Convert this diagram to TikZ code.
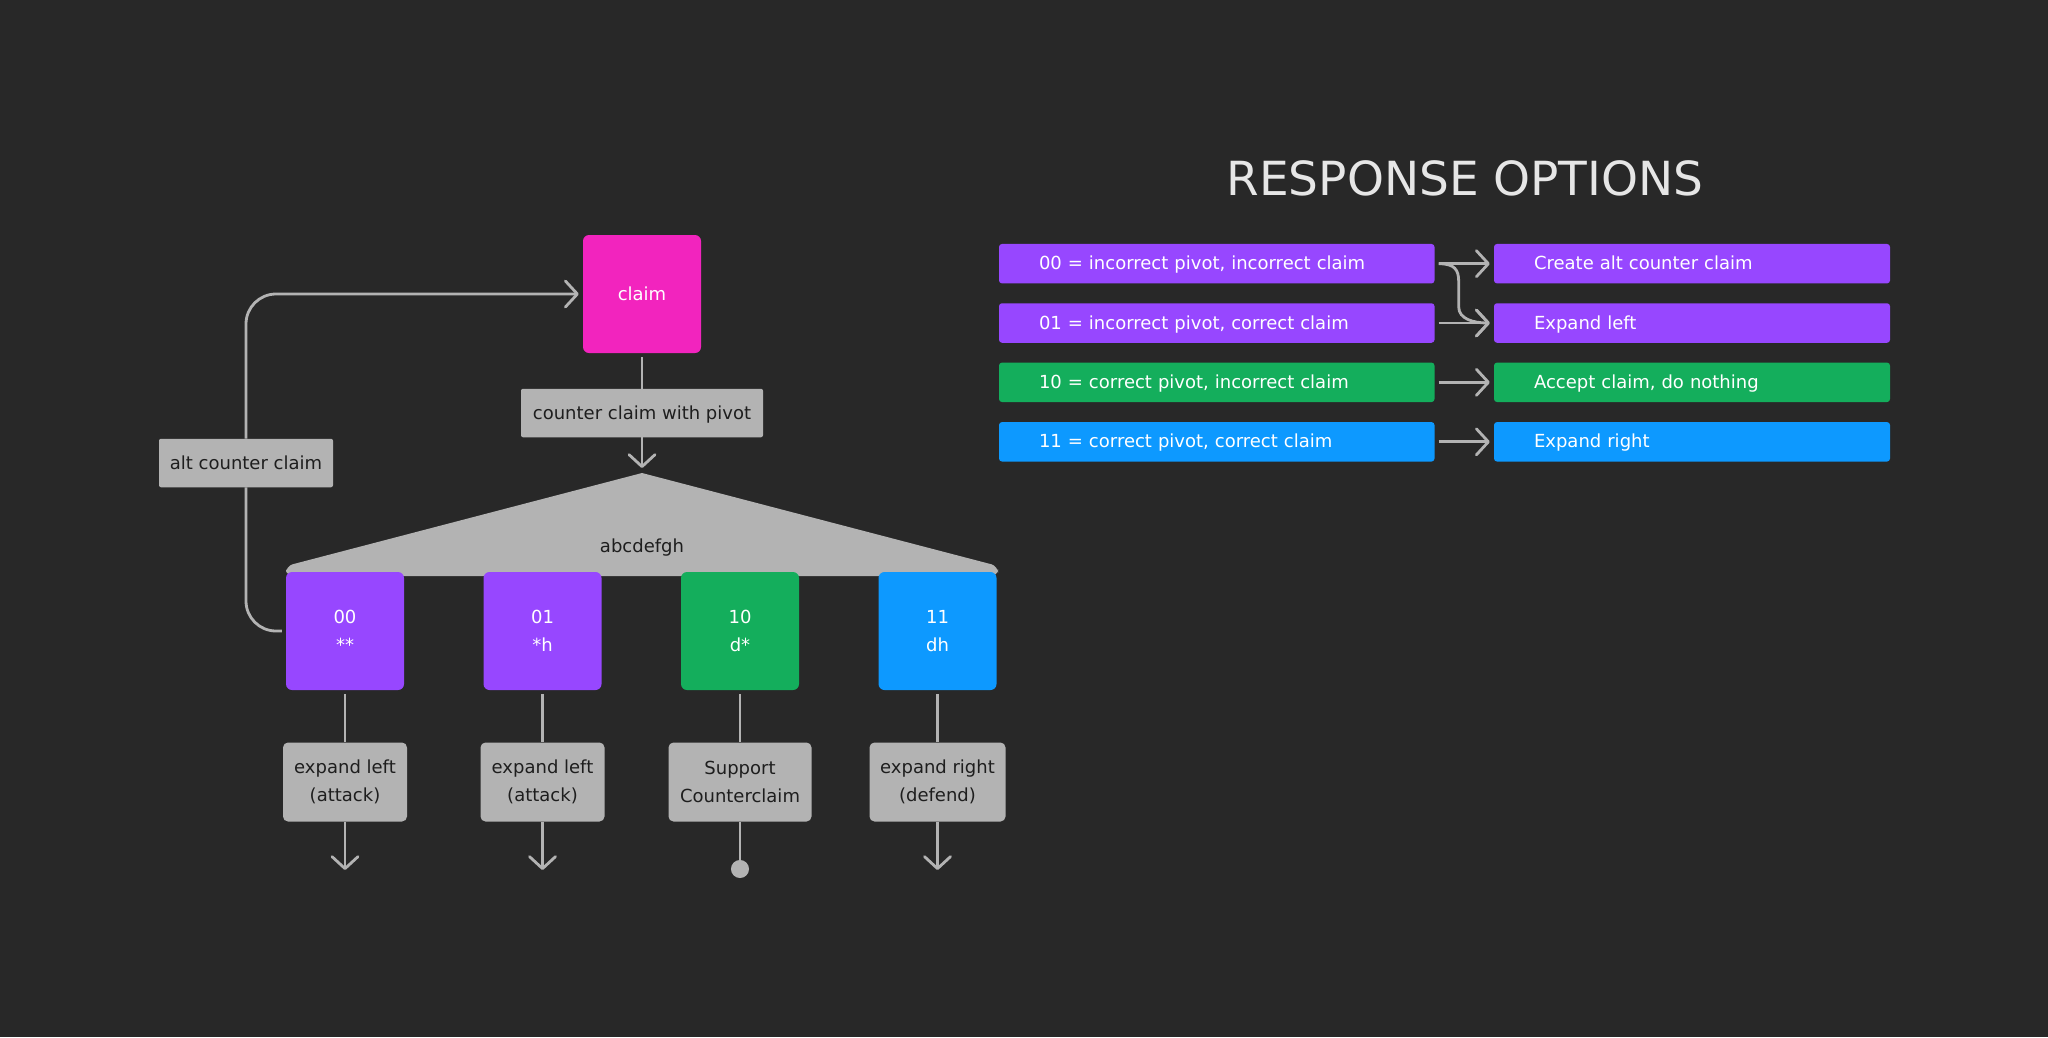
\documentclass[tikz,border=0pt]{standalone}
\usepackage{fontspec}
\setmainfont{DejaVu Sans}
\usetikzlibrary{arrows.meta,calc}
\definecolor{bg}{HTML}{282828}
\definecolor{cpink}{HTML}{F224BE}
\definecolor{cpurple}{HTML}{9747FF}
\definecolor{cgreen}{HTML}{14AE5C}
\definecolor{cblue}{HTML}{0D99FF}
\definecolor{cgray}{HTML}{B3B3B3}
\definecolor{cdark}{HTML}{1E1E1E}
\definecolor{ctitle}{HTML}{E6E6E6}
\begin{document}
\begin{tikzpicture}[x=1pt,y=-1pt,
  txt/.style={font=\fontsize{18}{28.5}\selectfont},
  sq/.style={txt,minimum width=118pt,minimum height=118pt,rounded corners=6pt,text=white,align=center,inner sep=0pt},
  lab/.style={txt,fill=cgray,text=cdark,align=center,rounded corners=5pt,inner sep=0pt,minimum height=79pt},
  flat/.style={lab,minimum height=48.5pt,rounded corners=2pt,text height=12pt,text depth=0pt},
  conn/.style={draw=cgray,line width=2.8pt},
  arr/.style={conn,-{Straight Barb[length=12pt,width=26pt,round]}},
  opt/.style={txt,text=white,minimum height=39.5pt,rounded corners=3pt,inner ysep=0pt,inner xsep=40pt,align=left,text height=12pt,text depth=0pt},
  optl/.style={opt,text width=355.5pt},
  optr/.style={opt,text width=316pt}
  ]
% background / bounding box
\fill[bg] (0,0) rectangle (2048,1037);
\useasboundingbox (0,0) rectangle (2048,1037);

% ---------- left diagram ----------
\node[sq,fill=cpink] (claim) at (642,294) {claim};
\node[flat,minimum width=242pt] (ccp) at (642,413) {counter claim with pivot};
\node[flat,minimum width=174pt] (alt) at (246,463) {alt counter claim};

% triangle
\fill[cgray] (642,473) [rounded corners=7pt] -- (998,566) -- (998,576) -- (286,576) -- (286,566) [sharp corners] -- cycle;
\coordinate (apex) at (642,473);
\node[txt,text=cdark] (abc) at (642,548) {abcdefgh};

% leaf boxes
\node[sq,fill=cpurple] (b00) at (345,631) {00\\**};
\node[sq,fill=cpurple] (b01) at (542.5,631) {01\\*h};
\node[sq,fill=cgreen]  (b10) at (740,631) {10\\d*};
\node[sq,fill=cblue]   (b11) at (937.5,631) {11\\dh};

% label boxes
\node[lab,minimum width=124pt] (l00) at (345,782) {\raisebox{-2pt}{expand left}\\\raisebox{-2pt}{(attack)}};
\node[lab,minimum width=124pt] (l01) at (542.5,782) {\raisebox{-2pt}{expand left}\\\raisebox{-2pt}{(attack)}};
\node[lab,minimum width=143pt] (l10) at (740,782) {\raisebox{-2pt}{Support}\\\raisebox{-2pt}{Counterclaim}};
\node[lab,minimum width=136pt] (l11) at (937.5,782) {\raisebox{-2pt}{expand right}\\\raisebox{-2pt}{(defend)}};

\coordinate (e00) at (345,870);
\coordinate (e01) at (542.5,870);
\coordinate (e10) at (740,878);
\coordinate (e11) at (937.5,870);

% connectors
\draw[conn] ($(claim.south)+(0,4)$) -- (ccp.north);
\draw[arr] (ccp.south) -- ($(apex)+(0,-5)$);
\draw[conn,rounded corners=30pt] ($(b00.west)+(-4,0)$) -| (alt.south);
\draw[arr,rounded corners=30pt] (alt.north) |- ($(claim.west)+(-4,0)$);
\foreach \b in {00,01,10,11} \draw[conn] ($(b\b.south)+(0,4)$) -- (l\b.north);
\draw[arr] (l00.south) -- (e00);
\draw[arr] (l01.south) -- (e01);
\draw[arr] (l11.south) -- (e11);
\draw[conn,-{Circle[length=18pt,width=18pt]}] (l10.south) -- (e10);

% ---------- right panel ----------
\node[font=\fontsize{47}{56}\selectfont,text=ctitle] (title) at (1465,178) {RESPONSE OPTIONS};

\node[optl,fill=cpurple] (o1) at (1216.75,263.7) {00 = incorrect pivot, incorrect claim};
\node[optl,fill=cpurple] (o2) at (1216.75,323) {01 = incorrect pivot, correct claim};
\node[optl,fill=cgreen]  (o3) at (1216.75,382.3) {10 = correct pivot, incorrect claim};
\node[optl,fill=cblue]   (o4) at (1216.75,441.8) {11 = correct pivot, correct claim};

\node[optr,fill=cpurple] (r1) at (1692,263.7) {Create alt counter claim};
\node[optr,fill=cpurple] (r2) at (1692,323) {Expand left};
\node[optr,fill=cgreen]  (r3) at (1692,382.3) {Accept claim, do nothing};
\node[optr,fill=cblue]   (r4) at (1692,441.8) {Expand right};

\foreach \i in {1,2,3,4} \draw[arr] ($(o\i.east)+(4,0)$) -- ($(r\i.west)+(-4,0)$);
\draw[arr] ($(o1.east)+(4,0)$) .. controls +(16,0) and +(0,-12) .. ($(o1.east)+(24,18)$)
  -- ($(o2.east)+(24,-16)$) .. controls +(0,12) and +(-16,0) .. ($(r2.west)+(-4,0)$);
\end{tikzpicture}
\end{document}
